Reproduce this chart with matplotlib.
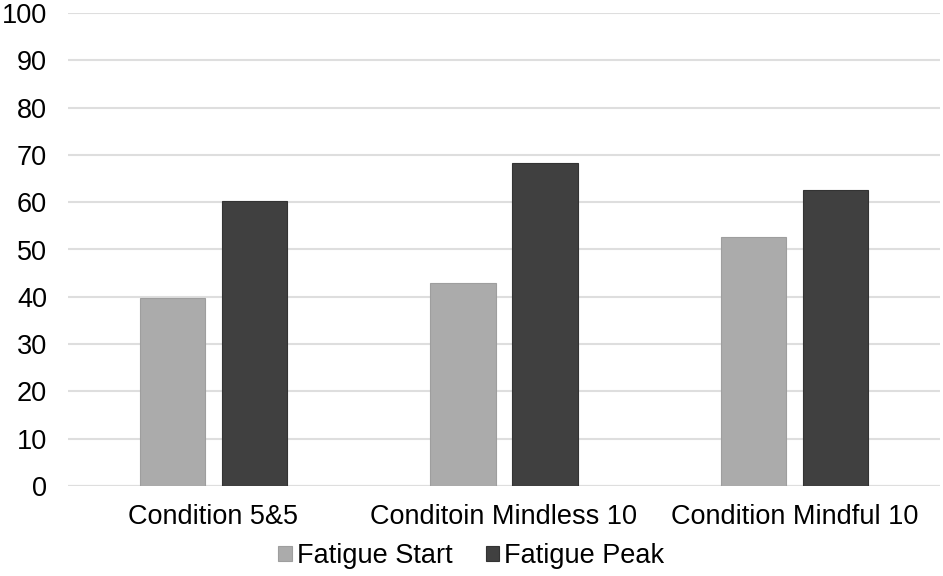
import numpy as np
import matplotlib
matplotlib.use("Agg")
import matplotlib.pyplot as plt

categories = ["Condition 5&5", "Conditoin Mindless 10", "Condition Mindful 10"]
fatigue_start = [39.7, 42.9, 52.7]
fatigue_peak = [60.3, 68.2, 62.6]
series_names = ["Fatigue Start", "Fatigue Peak"]

plt.rcParams['font.family'] = ['Liberation Sans', 'DejaVu Sans']

fig = plt.figure(figsize=(9.43, 5.76), dpi=100)
ax = fig.add_axes([68 / 943, 1 - 486 / 576, 872 / 943, 473 / 576])

x = np.arange(len(categories))
w = 0.224
off = 0.141
ax.bar(x - off, fatigue_start, w, color='#ababab', edgecolor='#9e9e9e', linewidth=0.8,
       label=series_names[0], zorder=3)
ax.bar(x + off, fatigue_peak, w, color='#404040', edgecolor='#333333', linewidth=0.8,
       label=series_names[1], zorder=3)

ax.set_xlim(-0.5, 2.5)
ax.set_ylim(0, 100)
ax.set_yticks(range(0, 101, 10))
ax.yaxis.grid(True, color='#dedede', linewidth=1.5, zorder=0)
ax.set_axisbelow(True)
for s in ax.spines.values():
    s.set_visible(False)
ax.axhline(0, color='#dedede', linewidth=1.5, zorder=1)
ax.tick_params(axis='both', length=0, labelsize=19.5, colors='black')
ax.tick_params(axis='y', pad=15)
ax.tick_params(axis='x', pad=13)
ax.set_xticks(x)
ax.set_xticklabels(categories)

fig.legend(loc='center', bbox_to_anchor=(0.5, 1 - 556 / 576), ncol=2, frameon=False,
           fontsize=19.5, handlelength=0.5, handleheight=0.5, handletextpad=0.2,
           columnspacing=1.2)

fig.savefig("out.png", dpi=100)
